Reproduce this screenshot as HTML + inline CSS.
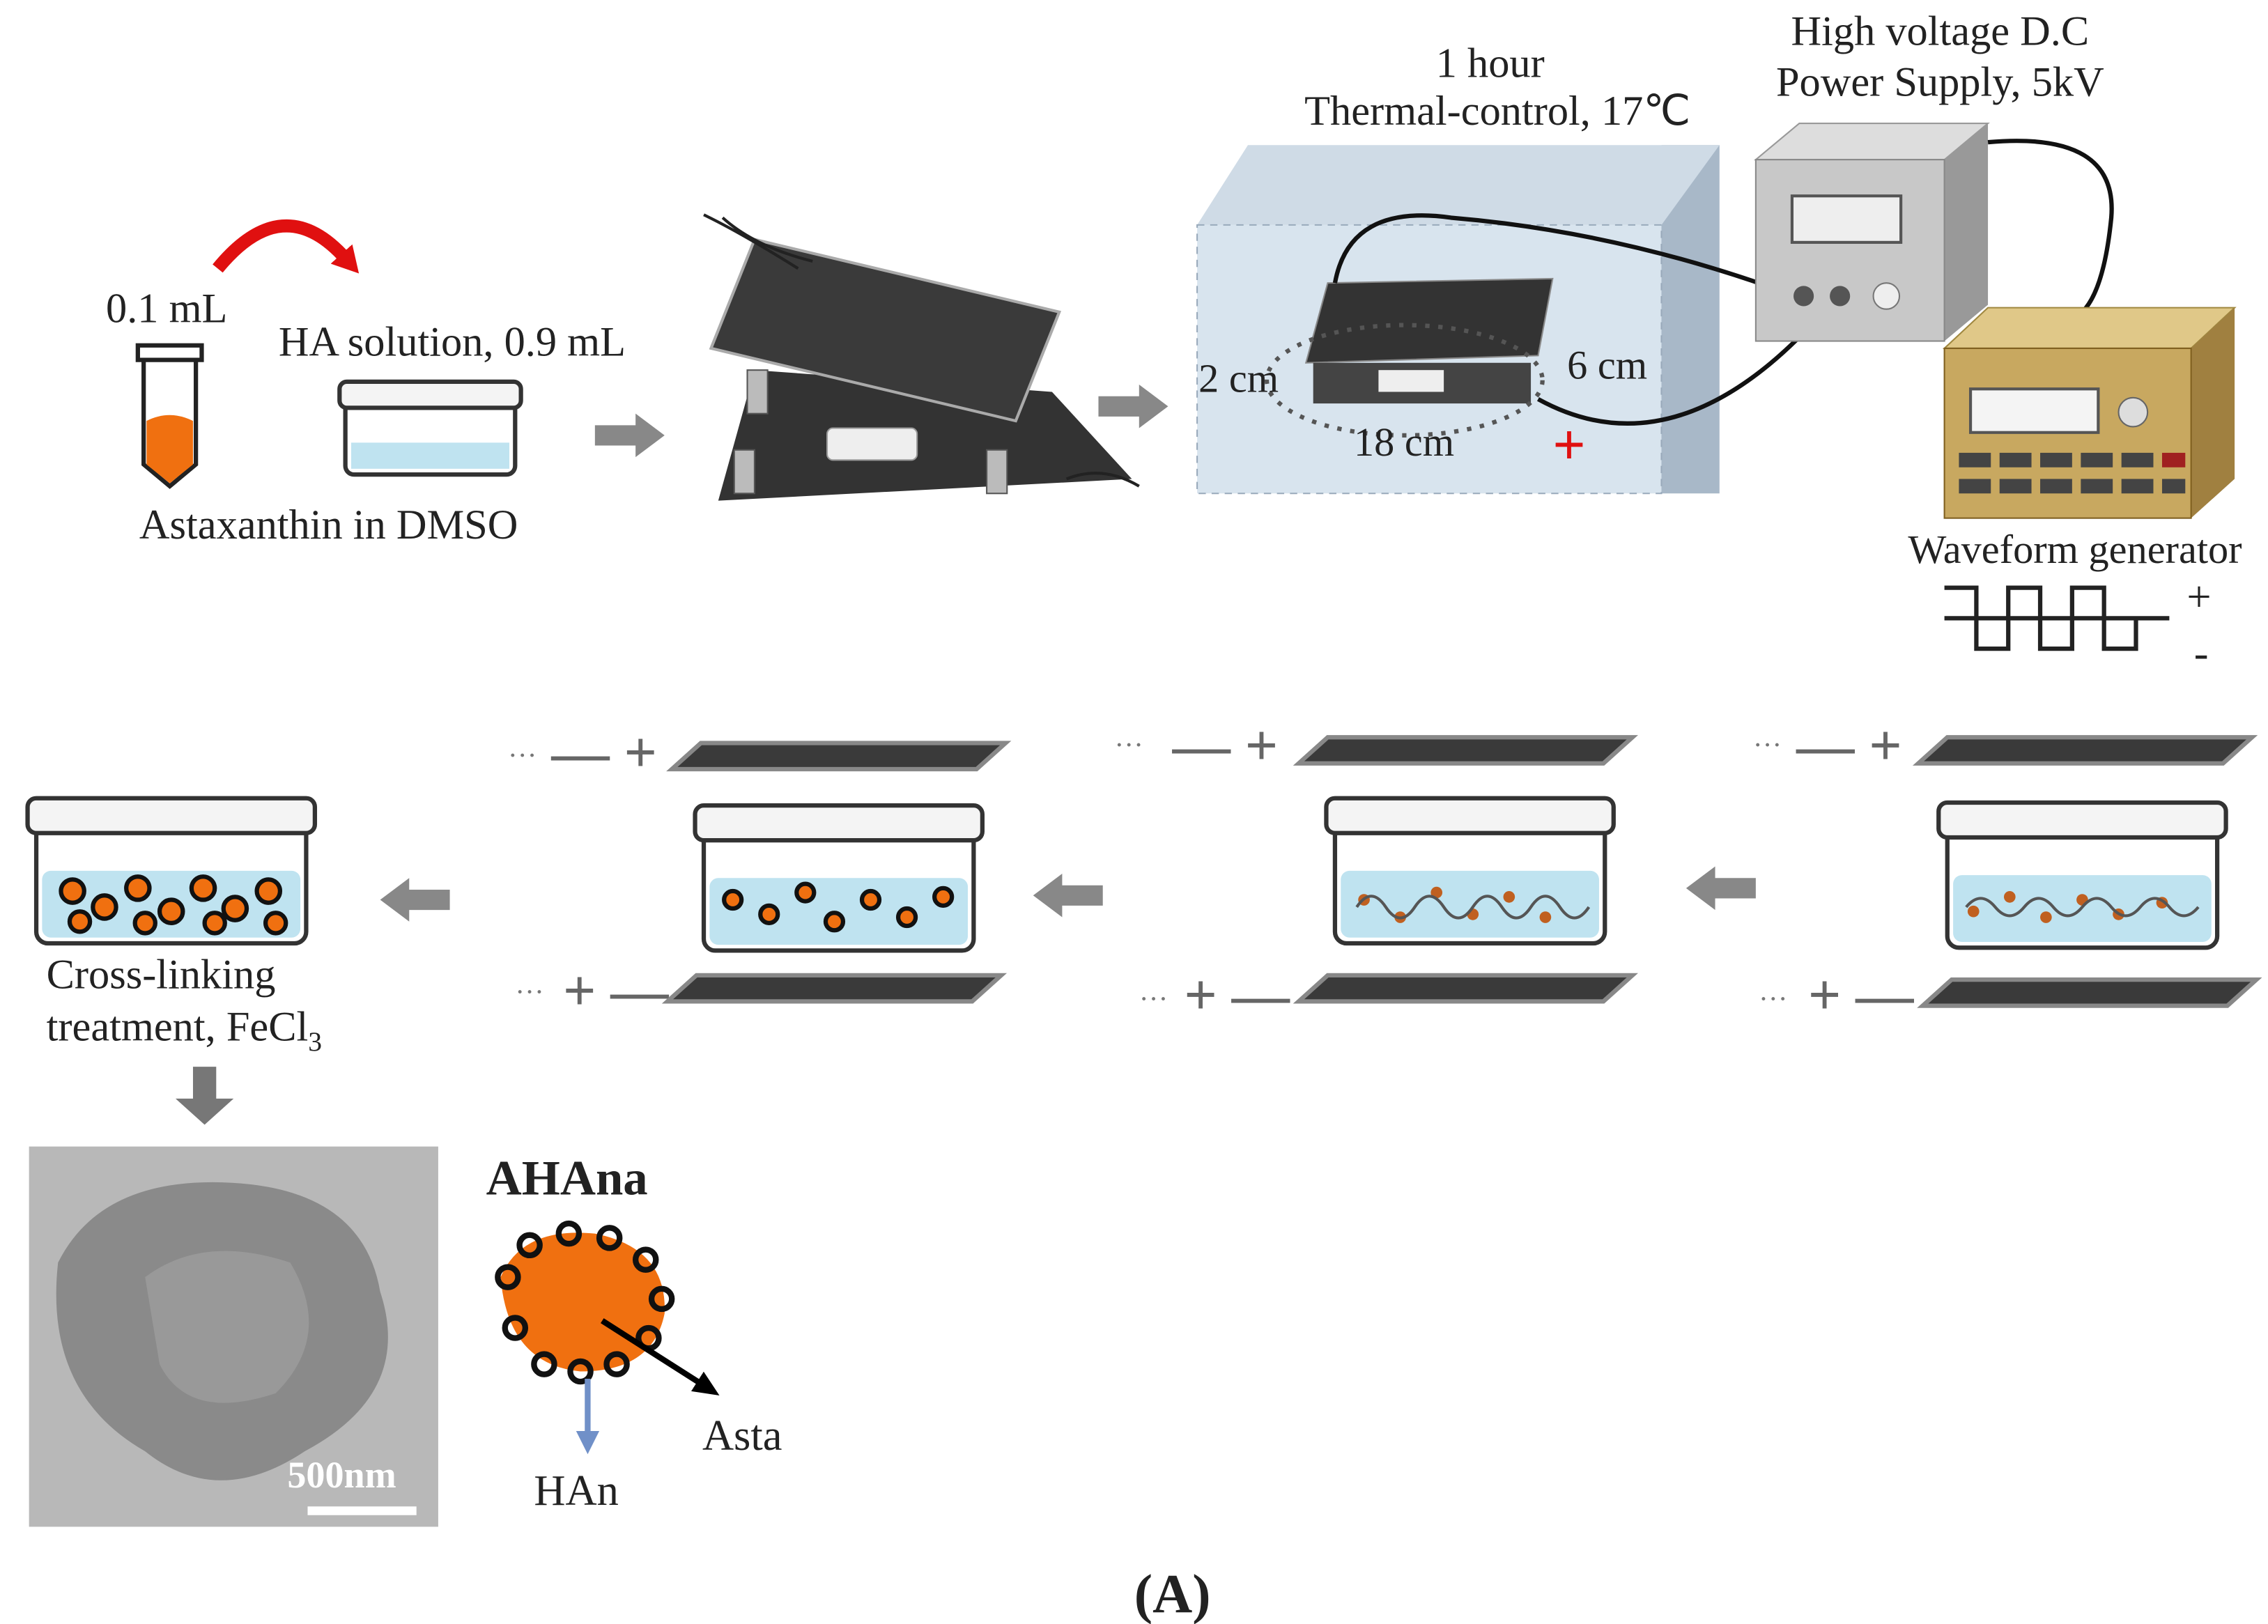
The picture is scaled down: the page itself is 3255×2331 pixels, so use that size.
<!DOCTYPE html>
<html><head><meta charset="utf-8"><style>
html,body{margin:0;padding:0;background:#fff;}
svg{display:block}
text{font-family:"Liberation Serif",serif;fill:#222}
</style></head><body>
<svg width="3255" height="2331" viewBox="0 0 1563 1119" preserveAspectRatio="none" xmlns="http://www.w3.org/2000/svg">
<defs>
<marker id="ah" markerUnits="userSpaceOnUse" markerWidth="18" markerHeight="16" refX="4" refY="8" orient="auto"><path d="M0,0 L18,8 L0,16z" fill="#000"/></marker>
<marker id="ahb" markerUnits="userSpaceOnUse" markerWidth="16" markerHeight="16" refX="4" refY="8" orient="auto"><path d="M0,0 L16,8 L0,16z" fill="#7090c8"/></marker>
<marker id="ahr" markerUnits="userSpaceOnUse" markerWidth="18" markerHeight="20" refX="4" refY="10" orient="auto"><path d="M0,0 L18,10 L0,20z" fill="#e01010"/></marker>
<g id="garrowR"><path d="M0,-7 h28 v-8 l20,15 l-20,15 v-8 h-28z" fill="#888"/></g>
<g id="garrowL"><path d="M48,-7 h-28 v-8 l-20,15 l20,15 v-8 h28z" fill="#888"/></g>
<g id="dish">
<rect x="0" y="12" width="186" height="88" rx="8" fill="#fff" stroke="#333" stroke-width="3"/>
<rect x="4" y="50" width="178" height="46" rx="6" fill="#bfe3f0"/>
<rect x="-6" y="0" width="198" height="24" rx="6" fill="#f4f4f4" stroke="#333" stroke-width="3"/>
</g>
<g id="plate"><path d="M20,0 h210 l-20,18 h-210z" fill="#3a3a3a" stroke="#888" stroke-width="3"/></g>
</defs>

<!-- Top row -->
<text x="73" y="222" font-size="29">0.1 mL</text>
<path d="M150,185 Q195,130 238,178" fill="none" stroke="#e01010" stroke-width="9" marker-end="url(#ahr)"/>
<rect x="95" y="238" width="44" height="10" fill="#fff" stroke="#222" stroke-width="3"/>
<path d="M99,248 v72 l18,15 l18,-15 v-72z" fill="#fff" stroke="#222" stroke-width="3"/>
<path d="M101,290 q16,-8 32,0 v30 l-16,13 l-16,-13z" fill="#f07010"/>
<text x="192" y="245" font-size="29">HA solution, 0.9 mL</text>
<rect x="238" y="275" width="117" height="52" rx="6" fill="#fff" stroke="#333" stroke-width="3"/>
<rect x="242" y="305" width="109" height="18" fill="#bfe3f0"/>
<rect x="234" y="263" width="125" height="18" rx="5" fill="#f4f4f4" stroke="#333" stroke-width="3"/>
<text x="96" y="371" font-size="29">Astaxanthin in DMSO</text>
<use href="#garrowR" x="410" y="300"/>

<!-- device -->
<path d="M520,255 L725,270 L780,330 L495,345z" fill="#333"/>
<rect x="570" y="295" width="62" height="22" rx="4" fill="#eee" stroke="#999"/>
<rect x="515" y="255" width="14" height="30" fill="#bbb" stroke="#555"/>
<rect x="506" y="310" width="14" height="30" fill="#bbb" stroke="#555"/>
<rect x="680" y="310" width="14" height="30" fill="#bbb" stroke="#555"/>
<path d="M520,165 L730,215 L700,290 L490,240z" fill="#3a3a3a" stroke="#aaa" stroke-width="2"/>
<path d="M485,148 Q510,160 550,185 M498,150 Q520,170 560,180" stroke="#222" stroke-width="2" fill="none"/>
<path d="M735,330 Q760,320 785,335" stroke="#222" stroke-width="2" fill="none"/>
<use href="#garrowR" x="757" y="280"/>

<!-- thermal box -->
<path d="M1145,100 L1185,100 L1185,340 L1145,340z" fill="#a8b8c8"/>
<path d="M860,100 L1185,100 L1145,155 L825,155z" fill="#cfdbe6"/>
<rect x="825" y="155" width="320" height="185" fill="#d8e4ee" stroke="#9ab" stroke-dasharray="5,4"/>
<text x="1027" y="53" font-size="29" text-anchor="middle">1 hour</text>
<text x="1032" y="86" font-size="29" text-anchor="middle">Thermal-control, 17℃</text>
<path d="M915,195 L1070,192 L1060,245 L900,250z" fill="#333" stroke="#888"/>
<rect x="905" y="250" width="150" height="28" fill="#444"/>
<rect x="950" y="255" width="45" height="15" fill="#eee"/>
<ellipse cx="968" cy="262" rx="95" ry="38" fill="none" stroke="#555" stroke-width="3" stroke-dasharray="3,6"/>
<text x="826" y="270" font-size="28">2 cm</text>
<text x="1080" y="261" font-size="28">6 cm</text>
<text x="933" y="314" font-size="28">18 cm</text>
<text x="1070" y="320" font-size="40" style="fill:#e01010" font-weight="bold" font-family="Liberation Sans">+</text>
<path d="M920,195 Q930,140 1000,150 Q1120,160 1240,205" stroke="#111" stroke-width="3" fill="none"/>
<path d="M1060,275 Q1160,330 1265,205" stroke="#111" stroke-width="3" fill="none"/>
<!-- power supply -->
<path d="M1210,110 L1240,85 L1370,85 L1340,110z" fill="#ddd" stroke="#999"/>
<path d="M1340,110 L1370,85 L1370,210 L1340,235z" fill="#999"/>
<rect x="1210" y="110" width="130" height="125" fill="#c8c8c8" stroke="#888"/>
<rect x="1235" y="135" width="75" height="32" fill="#eee" stroke="#555" stroke-width="2"/>
<circle cx="1243" cy="204" r="7" fill="#555"/><circle cx="1268" cy="204" r="7" fill="#555"/><circle cx="1300" cy="204" r="9" fill="#eee" stroke="#777"/>
<text x="1337" y="31" font-size="29" text-anchor="middle">High voltage D.C</text>
<text x="1337" y="66" font-size="29" text-anchor="middle">Power Supply, 5kV</text>
<path d="M1370,98 Q1460,90 1455,150 Q1450,200 1435,215" stroke="#111" stroke-width="3" fill="none"/>
<!-- waveform generator -->
<path d="M1340,240 L1370,212 L1540,212 L1510,240z" fill="#e0c888" stroke="#a08840"/>
<path d="M1510,240 L1540,212 L1540,330 L1510,357z" fill="#a08040"/>
<rect x="1340" y="240" width="170" height="117" fill="#c8a860" stroke="#806020"/>
<rect x="1358" y="268" width="88" height="30" fill="#f4f4f4" stroke="#555" stroke-width="2"/>
<circle cx="1470" cy="284" r="10" fill="#ddd" stroke="#666"/>
<g fill="#444">
<rect x="1350" y="312" width="22" height="10"/><rect x="1378" y="312" width="22" height="10"/><rect x="1406" y="312" width="22" height="10"/><rect x="1434" y="312" width="22" height="10"/><rect x="1462" y="312" width="22" height="10"/><rect x="1490" y="312" width="16" height="10" fill="#a02020"/>
<rect x="1350" y="330" width="22" height="10"/><rect x="1378" y="330" width="22" height="10"/><rect x="1406" y="330" width="22" height="10"/><rect x="1434" y="330" width="22" height="10"/><rect x="1462" y="330" width="22" height="10"/><rect x="1490" y="330" width="16" height="10"/>
</g>
<text x="1430" y="388" font-size="28" text-anchor="middle">Waveform generator</text>
<path d="M1340,405 h22 v42 h22 v-42 h22 v42 h22 v-42 h22 v42 h22 v-21 M1340,426 h155" stroke="#222" stroke-width="3" fill="none"/>
<text x="1507" y="421" font-size="30" font-family="Liberation Sans">+</text>
<text x="1512" y="460" font-size="30" font-family="Liberation Sans">-</text>

<!-- Row 2 -->
<g font-family="Liberation Sans" font-size="40" font-weight="bold">
<text x="350" y="527" style="fill:#777" font-size="20" font-weight="normal">···</text><text x="380" y="532" style="fill:#666">— +</text>
<text x="355" y="690" style="fill:#777" font-size="20" font-weight="normal">···</text><text x="388" y="696" style="fill:#666">+ —</text>
<text x="768" y="520" style="fill:#777" font-size="20" font-weight="normal">···</text><text x="808" y="527" style="fill:#666">— +</text>
<text x="785" y="695" style="fill:#777" font-size="20" font-weight="normal">···</text><text x="816" y="699" style="fill:#666">+ —</text>
<text x="1208" y="520" style="fill:#777" font-size="20" font-weight="normal">···</text><text x="1238" y="527" style="fill:#666">— +</text>
<text x="1212" y="695" style="fill:#777" font-size="20" font-weight="normal">···</text><text x="1246" y="699" style="fill:#666">+ —</text>
</g>
<use href="#plate" x="463" y="512"/><use href="#plate" x="460" y="672"/>
<use href="#plate" x="895" y="508"/><use href="#plate" x="895" y="672"/>
<use href="#plate" x="1322" y="508"/><use href="#plate" x="1325" y="675"/>
<use href="#dish" x="25" y="550"/>
<use href="#dish" x="485" y="555"/>
<use href="#dish" x="920" y="550"/>
<use href="#dish" x="1342" y="553"/>
<g fill="#f07010" stroke="#111" stroke-width="3">
<circle cx="50" cy="614" r="8"/><circle cx="72" cy="625" r="8"/><circle cx="95" cy="612" r="8"/><circle cx="118" cy="628" r="8"/><circle cx="140" cy="612" r="8"/><circle cx="162" cy="626" r="8"/><circle cx="185" cy="614" r="8"/><circle cx="55" cy="635" r="7"/><circle cx="100" cy="636" r="7"/><circle cx="148" cy="636" r="7"/><circle cx="190" cy="636" r="7"/>
<circle cx="505" cy="620" r="6"/><circle cx="530" cy="630" r="6"/><circle cx="555" cy="615" r="6"/><circle cx="575" cy="635" r="6"/><circle cx="600" cy="620" r="6"/><circle cx="625" cy="632" r="6"/><circle cx="650" cy="618" r="6"/>
</g>
<g fill="#c06020">
<circle cx="940" cy="620" r="4"/><circle cx="965" cy="632" r="4"/><circle cx="990" cy="615" r="4"/><circle cx="1015" cy="630" r="4"/><circle cx="1040" cy="618" r="4"/><circle cx="1065" cy="632" r="4"/>
<circle cx="1360" cy="628" r="4"/><circle cx="1385" cy="618" r="4"/><circle cx="1410" cy="632" r="4"/><circle cx="1435" cy="620" r="4"/><circle cx="1460" cy="630" r="4"/><circle cx="1490" cy="622" r="4"/>
</g>
<path d="M935,625 q10,-15 20,0 t20,0 t20,0 t20,0 t20,0 t20,0 t20,0 t20,0" stroke="#555" stroke-width="2" fill="none"/>
<path d="M1355,625 q10,-12 20,0 t20,0 t20,0 t20,0 t20,0 t20,0 t20,0 t20,0" stroke="#555" stroke-width="2" fill="none"/>
<use href="#garrowL" x="262" y="620"/>
<use href="#garrowL" x="712" y="617"/>
<use href="#garrowL" x="1162" y="612"/>

<text x="32" y="681" font-size="29">Cross-linking</text>
<text x="32" y="717" font-size="29">treatment, FeCl<tspan font-size="19" dy="7">3</tspan></text>
<path d="M133,735 h16 v22 h12 l-20,18 l-20,-18 h12z" fill="#777"/>

<!-- TEM image -->
<rect x="20" y="790" width="282" height="262" fill="#b8b8b8"/>
<path d="M40,870 Q70,810 160,815 Q250,820 262,890 Q285,960 210,1000 Q150,1040 100,1000 Q30,960 40,870z" fill="#8a8a8a"/>
<path d="M100,880 Q140,850 200,870 Q230,920 190,960 Q130,980 110,940z" fill="#999"/>
<text x="198" y="1025" font-size="26" font-weight="bold" style="fill:#fff">500nm</text>
<rect x="212" y="1038" width="75" height="6" fill="#fff"/>

<!-- AHAna -->
<text x="335" y="823" font-size="34" font-weight="bold">AHAna</text>
<path d="M345,880 Q360,845 410,850 Q460,860 458,905 Q450,945 400,945 Q350,940 345,880z" fill="#f07010"/>
<g fill="none" stroke="#111" stroke-width="4">
<circle cx="350" cy="880" r="7"/><circle cx="365" cy="858" r="7"/><circle cx="392" cy="850" r="7"/><circle cx="420" cy="853" r="7"/><circle cx="445" cy="868" r="7"/><circle cx="456" cy="895" r="7"/><circle cx="447" cy="922" r="7"/><circle cx="425" cy="940" r="7"/><circle cx="400" cy="945" r="7"/><circle cx="375" cy="940" r="7"/><circle cx="355" cy="915" r="7"/>
</g>
<line x1="415" y1="910" x2="484" y2="954" stroke="#000" stroke-width="4" marker-end="url(#ah)"/>
<line x1="405" y1="950" x2="405" y2="990" stroke="#7090c8" stroke-width="4" marker-end="url(#ahb)"/>
<text x="484" y="999" font-size="30">Asta</text>
<text x="368" y="1037" font-size="30">HAn</text>

<text x="808" y="1111" font-size="38" font-weight="bold" text-anchor="middle">(A)</text>
</svg>
</body></html>
